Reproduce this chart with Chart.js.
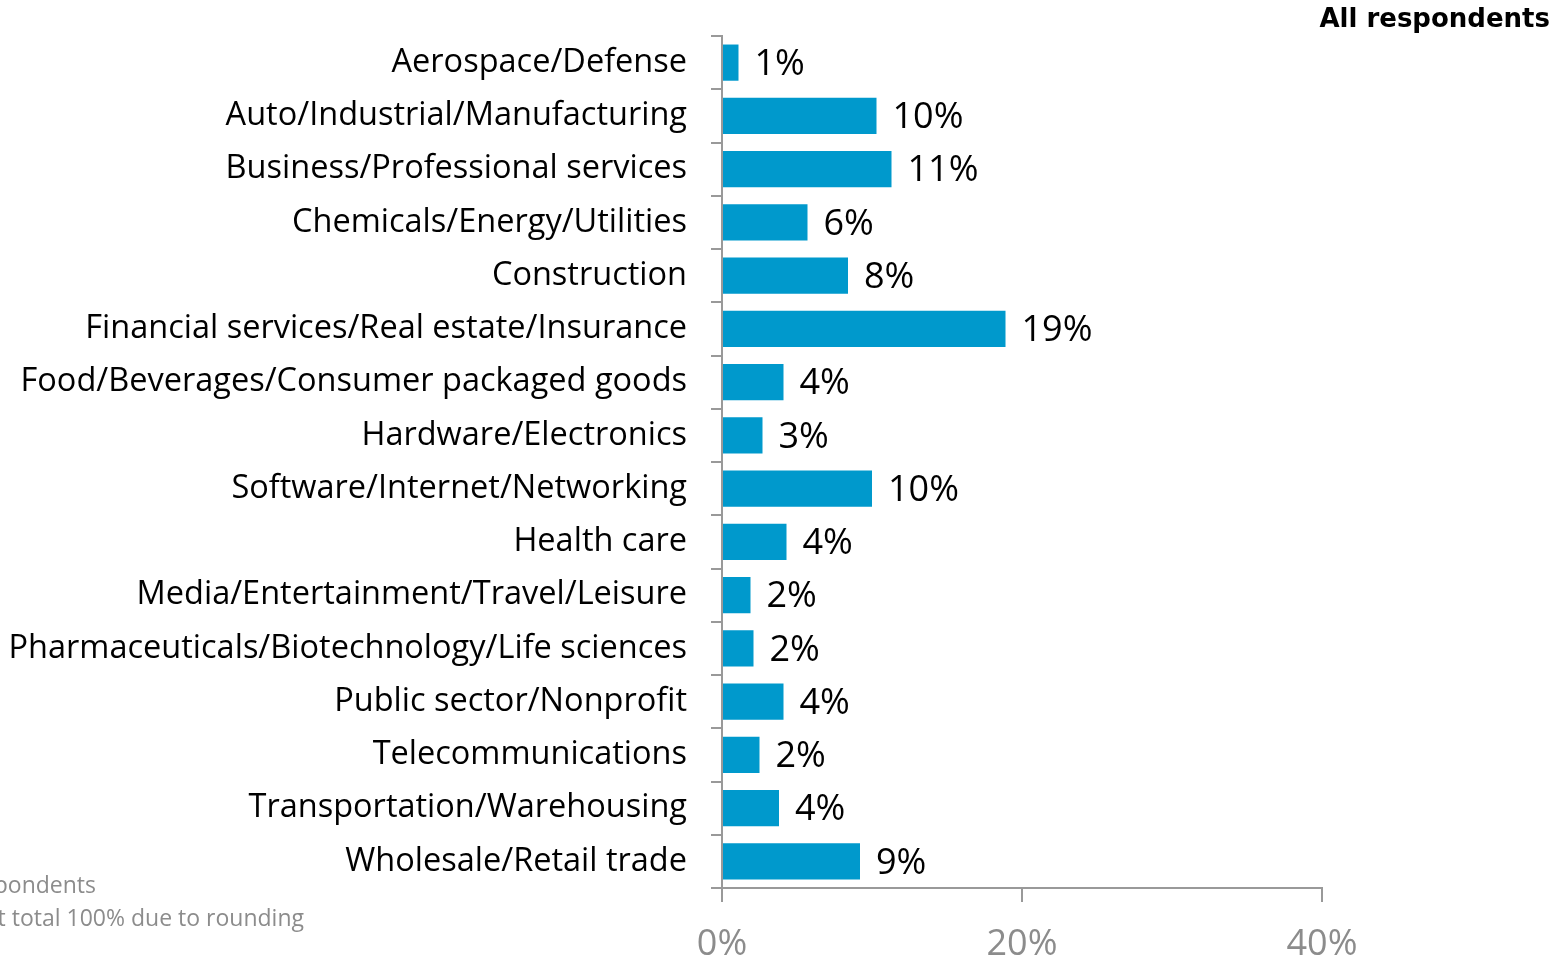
<!DOCTYPE html>
<html>
<head>
<meta charset="utf-8">
<script src="https://cdn.jsdelivr.net/npm/chart.js@4/dist/chart.umd.min.js"></script>
<style>
  html, body { margin: 0; padding: 0; background: #fff; }
  #wrap { width: 1553px; height: 959px; }
</style>
</head>
<body>
<div id="wrap"><canvas id="chart"></canvas></div>
<script>
const categories = [
  'Aerospace/Defense',
  'Auto/Industrial/Manufacturing',
  'Business/Professional services',
  'Chemicals/Energy/Utilities',
  'Construction',
  'Financial services/Real estate/Insurance',
  'Food/Beverages/Consumer packaged goods',
  'Hardware/Electronics',
  'Software/Internet/Networking',
  'Health care',
  'Media/Entertainment/Travel/Leisure',
  'Pharmaceuticals/Biotechnology/Life sciences',
  'Public sector/Nonprofit',
  'Telecommunications',
  'Transportation/Warehousing',
  'Wholesale/Retail trade'
];
const shares = [1.1, 10.3, 11.3, 5.7, 8.4, 18.9, 4.1, 2.7, 10.0, 4.3, 1.9, 2.1, 4.1, 2.5, 3.8, 9.2];
const valueLabels = ['1%', '10%', '11%', '6%', '8%', '19%', '4%', '3%', '10%', '4%', '2%', '2%', '4%', '2%', '4%', '9%'];
const xTicks = [0, 20, 40];
const subtitle = 'All respondents';
const notes = ['Base: All respondents', 'Note: Percentages may not total 100% due to rounding'];

const FONT = '"Open Sans", sans-serif';
const GREY = '#8c8c8c';

// value labels, title and the (cut off) notes
const extras = {
  id: 'extras',
  afterDatasetsDraw(chart) {
    const ctx = chart.ctx;
    const meta = chart.getDatasetMeta(0);
    ctx.save();
    ctx.fillStyle = '#000';
    ctx.font = '36px ' + FONT;
    ctx.textAlign = 'left';
    ctx.textBaseline = 'middle';
    meta.data.forEach((bar, i) => {
      ctx.fillText(valueLabels[i], bar.x + 16, bar.y + 2);
    });

    ctx.font = 'bold 26px "DejaVu Sans", sans-serif';
    ctx.textAlign = 'right';
    ctx.textBaseline = 'alphabetic';
    ctx.fillText(subtitle, 1550, 27);

    ctx.fillStyle = GREY;
    ctx.font = '23px ' + FONT;
    ctx.fillText(notes[0], 96, 893);
    ctx.fillText(notes[1], 304, 926);
    ctx.restore();
  }
};

new Chart(document.getElementById('chart'), {
  type: 'bar',
  data: {
    labels: categories,
    datasets: [{
      data: shares,
      backgroundColor: '#0099cc',
      borderWidth: 0,
      categoryPercentage: 1,
      barPercentage: 0.68
    }]
  },
  options: {
    indexAxis: 'y',
    responsive: true,
    maintainAspectRatio: false,
    animation: false,
    layout: { padding: { top: 36, right: 231, left: 0, bottom: 0 } },
    plugins: {
      legend: { display: false },
      tooltip: { enabled: false }
    },
    scales: {
      x: {
        min: 0,
        max: 40,
        afterBuildTicks(scale) { scale.ticks = xTicks.map(v => ({ value: v })); },
        afterFit(scale) { scale.height = 71; },
        grid: { drawOnChartArea: false, tickLength: 14, color: '#999', lineWidth: 2 },
        border: { color: '#999', width: 2 },
        ticks: {
          color: GREY,
          padding: 21,
          font: { family: FONT, size: 36 },
          callback: v => v + '%'
        }
      },
      y: {
        afterFit(scale) {
          scale.width = 722;
          scale.paddingTop = 0;
          scale.paddingBottom = 0;
        },
        grid: { offset: true, drawOnChartArea: false, tickLength: 11, color: '#999', lineWidth: 2 },
        border: { color: '#999', width: 2 },
        ticks: {
          color: '#000',
          padding: 24,
          autoSkip: false,
          font: { family: FONT, size: 32.5 }
        }
      }
    }
  },
  plugins: [extras]
});
</script>
</body>
</html>
